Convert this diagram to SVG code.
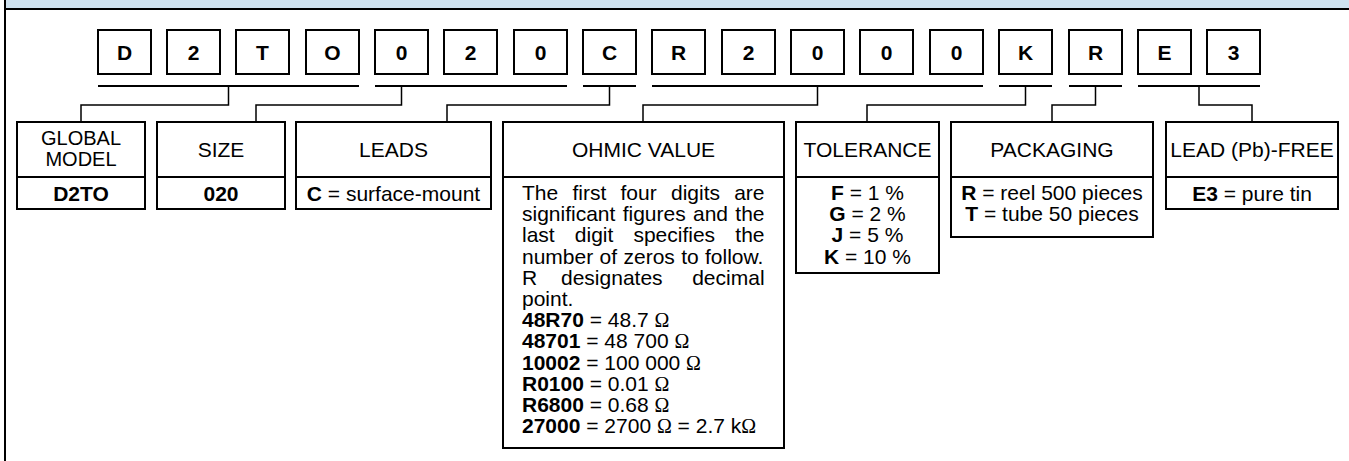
<svg xmlns="http://www.w3.org/2000/svg" width="1349" height="461" viewBox="0 0 1349 461">
<style>
text{font-family:"Liberation Sans",Arial,Helvetica,sans-serif;font-size:21px;fill:#000}
.lt{font-weight:bold;font-size:21px;text-anchor:middle}
.c{text-anchor:middle}
.e{text-anchor:end}
.b{font-weight:bold}
.om{font-family:"Liberation Serif","Times New Roman",serif;font-size:20px}
.gm{font-size:20px}
.box{fill:#fff;stroke:#000;stroke-width:2}
.ul{stroke:#000;stroke-width:2;fill:none}
.cn{stroke:#000;stroke-width:1.5;fill:none}
</style>
<rect x="6" y="0" width="1343" height="8" fill="#cfe2f0"/>
<line x1="4" y1="9" x2="1349" y2="9" stroke="#000" stroke-width="2"/>
<line x1="5" y1="0" x2="5" y2="461" stroke="#000" stroke-width="2"/>

<g id="code">
<rect class="box" x="98" y="30" width="53" height="44"/><text class="lt" x="124.5" y="59.5">D</text>
<rect class="box" x="167" y="30" width="53" height="44"/><text class="lt" x="193.5" y="59.5">2</text>
<rect class="box" x="236" y="30" width="53" height="44"/><text class="lt" x="262.5" y="59.5">T</text>
<rect class="box" x="306" y="30" width="53" height="44"/><text class="lt" x="332.5" y="59.5">O</text>
<rect class="box" x="375" y="30" width="53" height="44"/><text class="lt" x="401.5" y="59.5">0</text>
<rect class="box" x="444" y="30" width="53" height="44"/><text class="lt" x="470.5" y="59.5">2</text>
<rect class="box" x="514" y="30" width="53" height="44"/><text class="lt" x="540.5" y="59.5">0</text>
<rect class="box" x="583" y="30" width="53" height="44"/><text class="lt" x="609.5" y="59.5">C</text>
<rect class="box" x="652" y="30" width="53" height="44"/><text class="lt" x="678.5" y="59.5">R</text>
<rect class="box" x="722" y="30" width="53" height="44"/><text class="lt" x="748.5" y="59.5">2</text>
<rect class="box" x="791" y="30" width="53" height="44"/><text class="lt" x="817.5" y="59.5">0</text>
<rect class="box" x="860" y="30" width="53" height="44"/><text class="lt" x="886.5" y="59.5">0</text>
<rect class="box" x="930" y="30" width="53" height="44"/><text class="lt" x="956.5" y="59.5">0</text>
<rect class="box" x="999" y="30" width="53" height="44"/><text class="lt" x="1025.5" y="59.5">K</text>
<rect class="box" x="1069" y="30" width="53" height="44"/><text class="lt" x="1095.5" y="59.5">R</text>
<rect class="box" x="1138" y="30" width="53" height="44"/><text class="lt" x="1164.5" y="59.5">E</text>
<rect class="box" x="1207" y="30" width="53" height="44"/><text class="lt" x="1233.5" y="59.5">3</text>
</g>

<g id="connectors">
<line class="ul" x1="98" y1="86" x2="359" y2="86"/>
<line class="ul" x1="375" y1="86" x2="567" y2="86"/>
<line class="ul" x1="583" y1="86" x2="636" y2="86"/>
<line class="ul" x1="652" y1="86" x2="983" y2="86"/>
<line class="ul" x1="999" y1="86" x2="1052" y2="86"/>
<line class="ul" x1="1069" y1="86" x2="1122" y2="86"/>
<line class="ul" x1="1138" y1="86" x2="1260" y2="86"/>
<polyline class="cn" points="228.5,86 228.5,105 81,105 81,122"/>
<polyline class="cn" points="401.5,86 401.5,105 256,105 256,122"/>
<polyline class="cn" points="609.5,86 609.5,105 447,105 447,122"/>
<polyline class="cn" points="817.5,86 817.5,105 643,105 643,122"/>
<polyline class="cn" points="1025.5,86 1025.5,105 867,105 867,122"/>
<polyline class="cn" points="1095.5,86 1095.5,105 1052,105 1052,122"/>
<polyline class="cn" points="1199,86 1199,105 1252,105 1252,122"/>
</g>

<g id="global-model">
<rect class="box" x="17" y="122" width="128" height="87"/>
<line class="ul" x1="17" y1="177" x2="145" y2="177"/>
<text class="c gm" x="81" y="145">GLOBAL</text>
<text class="c gm" x="81" y="166">MODEL</text>
<text class="c b" x="81" y="201">D2TO</text>
</g>

<g id="size">
<rect class="box" x="157" y="122" width="128" height="87"/>
<line class="ul" x1="157" y1="177" x2="285" y2="177"/>
<text class="c" x="221" y="157">SIZE</text>
<text class="c b" x="221" y="201">020</text>
</g>

<g id="leads">
<rect class="box" x="296" y="122" width="195" height="87"/>
<line class="ul" x1="296" y1="177" x2="491" y2="177"/>
<text class="c" x="393.5" y="157">LEADS</text>
<text class="c" x="393.5" y="201"><tspan class="b">C</tspan> = surface-mount</text>
</g>

<g id="ohmic-value">
<rect class="box" x="503" y="122" width="281" height="326"/>
<line class="ul" x1="503" y1="177" x2="784" y2="177"/>
<text class="c" x="643.5" y="157">OHMIC VALUE</text>
<text y="200"><tspan x="522">The</tspan><tspan x="572.5">first</tspan><tspan x="620.5">four</tspan><tspan x="671">digits</tspan><tspan x="734.2">are</tspan></text>
<text y="221.2"><tspan x="522">significant</tspan><tspan x="622.7">figures</tspan><tspan x="693">and</tspan><tspan x="735.3">the</tspan></text>
<text y="242.4"><tspan x="522">last</tspan><tspan x="574.8">digit</tspan><tspan x="633.4">specifies</tspan><tspan x="735.3">the</tspan></text>
<text y="263.6"><tspan x="522">number</tspan><tspan x="599.6">of</tspan><tspan x="623.5">zeros</tspan><tspan x="681.2">to</tspan><tspan x="705">follow.</tspan></text>
<text y="284.8"><tspan x="522">R</tspan><tspan x="561">designates</tspan><tspan x="692.2">decimal</tspan></text>
<text x="522" y="306">point.</text>
<text x="522" y="327.2"><tspan class="b">48R70</tspan> = 48.7 <tspan class="om">Ω</tspan></text>
<text x="522" y="348.4"><tspan class="b">48701</tspan> = 48 700 <tspan class="om">Ω</tspan></text>
<text x="522" y="369.6"><tspan class="b">10002</tspan> = 100 000 <tspan class="om">Ω</tspan></text>
<text x="522" y="390.8"><tspan class="b">R0100</tspan> = 0.01 <tspan class="om">Ω</tspan></text>
<text x="522" y="412"><tspan class="b">R6800</tspan> = 0.68 <tspan class="om">Ω</tspan></text>
<text x="522" y="433.2"><tspan class="b">27000</tspan> = 2700 <tspan class="om">Ω</tspan> = 2.7 k<tspan class="om">Ω</tspan></text>
</g>

<g id="tolerance">
<rect class="box" x="796" y="122" width="143" height="151"/>
<line class="ul" x1="796" y1="177" x2="939" y2="177"/>
<text class="c" x="867.5" y="157">TOLERANCE</text>
<text class="c" x="867.5" y="200"><tspan class="b">F</tspan> = 1 %</text>
<text class="c" x="867.5" y="221.2"><tspan class="b">G</tspan> = 2 %</text>
<text class="c" x="867.5" y="242.4"><tspan class="b">J</tspan> = 5 %</text>
<text class="c" x="867.5" y="263.6"><tspan class="b">K</tspan> = 10 %</text>
</g>

<g id="packaging">
<rect class="box" x="951" y="122" width="202" height="115"/>
<line class="ul" x1="951" y1="177" x2="1153" y2="177"/>
<text class="c" x="1052" y="157">PACKAGING</text>
<text class="c" x="1052" y="200"><tspan class="b">R</tspan> = reel 500 pieces</text>
<text class="c" x="1052" y="221.2"><tspan class="b">T</tspan> = tube 50 pieces</text>
</g>

<g id="lead-free">
<rect class="box" x="1166" y="122" width="172" height="87"/>
<line class="ul" x1="1166" y1="177" x2="1338" y2="177"/>
<text class="c" x="1252" y="157">LEAD (Pb)-FREE</text>
<text class="c" x="1252" y="201"><tspan class="b">E3</tspan> = pure tin</text>
</g>
</svg>
